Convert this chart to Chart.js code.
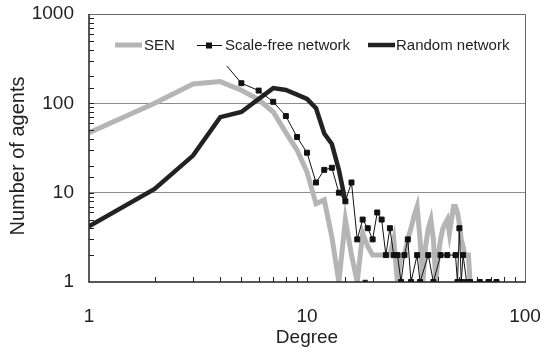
<!DOCTYPE html>
<html>
<head>
<meta charset="utf-8">
<script src="https://cdn.jsdelivr.net/npm/chart.js@4.4.0/dist/chart.umd.min.js"></script>
<style>
  html, body { margin: 0; padding: 0; background: #fff; }
  #box { width: 541px; height: 347px; }
</style>
</head>
<body>
<div id="box"><canvas id="degreeChart"></canvas></div>
<script>
// degree distribution
const senDeg = [1,2,3,4,5,6,7,8,9,10,11,12,13,14,15,16,17,18,19,20,21,22,23,24,25,26,27,28,
  29,30,31,32,33,34,35,36,37,38,39,40,41,42,43,44,45,46,47,48,49,50,51,52,53,54,55,56];
const senCount = [47,100,165,175,140,110,80,47,30,17,7.5,8.3,3.2,1,5,2,1,3.5,2.5,2,2,2,2,2,3,1,2,2,
  3,4,5.5,7,3,1,2.5,4,5,3,1,2,3,4,4.5,5,3.5,5,7,7,6,4.5,3,2.5,2,2,2,1];

const sfDeg = [4,5,6,7,8,9,10,11,12,13,14,15,16,17,18,19,20,21,22,23,24,25,26,27,28,29,30,
  32,33,36,38,41,44,48,49,50,51,52,54,56,62,68,74];
const sfCount = [320,168,139,104,72,42,28,13,18,19,10,8,13,3,5,4,3,6,5,2,4,2,2,1,2,3,1,
  2,1,2,1,2,2,2,1,4,1,2,1,1,1,1,1];

const rndDeg = [1,2,3,4,5,6,7,8,9,10,11,12,13,14,15,16,17,18,19];
const rndCount = [4.2,11,26,70,80,112,148,141,125,112,88,46,35,18,8,null,null,1,1];

const xLabels = [1, 10, 100];
const yLabels = [1, 10, 100, 1000];
const legendNames = ['SEN', 'Scale-free network', 'Random network'];
const yTitle = 'Number of agents';

const FONT = "'Liberation Sans', Arial, sans-serif";
const toXY = (xs, ys) => xs.map((d, i) => ({x: d, y: ys[i]}));

// no extra room for overhanging labels, the plot box is fixed by layout padding
const noPad = s => { s.paddingLeft = 0; s.paddingRight = 0; s.paddingTop = 0; s.paddingBottom = 0; };

// ticks inside the frame, border, y title and the legend box (drawn over the data like excel does)
const decorations = {
  id: 'decorations',
  afterDatasetsDraw(chart) {
    const {ctx, chartArea: a, scales: {x, y}} = chart;
    ctx.save();
    ctx.strokeStyle = '#222';
    ctx.lineWidth = 1;
    ctx.beginPath();
    x.ticks.forEach(t => {
      const px = Math.round(x.getPixelForValue(t.value)) + 0.5;
      if (px > a.left + 2 && px < a.right - 2) { ctx.moveTo(px, a.bottom); ctx.lineTo(px, a.bottom - 5); }
    });
    y.ticks.forEach(t => {
      const py = Math.round(y.getPixelForValue(t.value)) + 0.5;
      if (py > a.top + 2 && py < a.bottom - 2) { ctx.moveTo(a.left, py); ctx.lineTo(a.left + 5, py); }
    });
    ctx.stroke();

    // frame
    ctx.strokeStyle = '#666';
    ctx.beginPath();
    ctx.moveTo(a.left, a.top + 0.5); ctx.lineTo(a.right + 0.5, a.top + 0.5); ctx.lineTo(a.right + 0.5, a.bottom);
    ctx.stroke();
    ctx.strokeStyle = '#222';
    ctx.lineWidth = 1.5;
    ctx.beginPath();
    ctx.moveTo(a.left, a.top); ctx.lineTo(a.left, a.bottom); ctx.lineTo(a.right + 1, a.bottom);
    ctx.stroke();

    // y title, sits a bit lower than the middle in the original
    ctx.save();
    ctx.translate(18, 156);
    ctx.rotate(-Math.PI / 2);
    ctx.fillStyle = '#222';
    ctx.font = '20px ' + FONT;
    ctx.textAlign = 'center';
    ctx.textBaseline = 'middle';
    ctx.fillText(yTitle, 0, 0);
    ctx.restore();

    // legend
    ctx.fillStyle = '#fff';
    ctx.fillRect(105, 27, 415, 39);
    const ly = 45;
    ctx.lineCap = 'butt';
    ctx.strokeStyle = '#b5b5b5'; ctx.lineWidth = 5;
    ctx.beginPath(); ctx.moveTo(115, ly); ctx.lineTo(142, ly); ctx.stroke();
    ctx.strokeStyle = '#111'; ctx.lineWidth = 1;
    ctx.beginPath(); ctx.moveTo(197, ly + 0.5); ctx.lineTo(222, ly + 0.5); ctx.stroke();
    ctx.fillStyle = '#111'; ctx.fillRect(206, ly - 2.5, 6, 6);
    ctx.strokeStyle = '#222'; ctx.lineWidth = 4.5;
    ctx.beginPath(); ctx.moveTo(368, ly); ctx.lineTo(395, ly); ctx.stroke();

    ctx.fillStyle = '#222';
    ctx.font = '15px ' + FONT;
    ctx.textBaseline = 'middle';
    ctx.fillText(legendNames[0], 144, ly + 1);
    ctx.fillText(legendNames[1], 225, ly + 1);
    ctx.fillText(legendNames[2], 396, ly + 1);
    ctx.restore();
  }
};

new Chart(document.getElementById('degreeChart'), {
  type: 'line',
  data: {
    datasets: [{
      label: legendNames[1],
      data: toXY(sfDeg, sfCount),
      borderColor: '#111',
      borderWidth: 1,
      pointStyle: 'rect',
      pointRadius: 3.5,
      pointBorderWidth: 1,
      pointBackgroundColor: '#111',
      pointBorderColor: '#111',
      order: 1
    }, {
      label: legendNames[2],
      data: toXY(rndDeg, rndCount),
      borderColor: '#222',
      borderWidth: 4.5,
      pointRadius: 0,
      spanGaps: false,
      order: 2
    }, {
      label: legendNames[0],
      data: toXY(senDeg, senCount),
      borderColor: '#b5b5b5',
      borderWidth: 5,
      pointRadius: 0,
      order: 3
    }]
  },
  options: {
    responsive: true,
    maintainAspectRatio: false,
    animation: false,
    layout: { padding: { top: 14, right: 16, left: 0, bottom: 0 } },
    plugins: {
      legend: { display: false },
      tooltip: { enabled: false }
    },
    scales: {
      x: {
        type: 'logarithmic',
        min: 1,
        max: 100,
        grid: { display: false },
        border: { display: false },
        ticks: {
          autoSkip: false,
          maxRotation: 0,
          padding: 15,
          color: '#222',
          font: { family: FONT, size: 19 },
          callback: v => xLabels.includes(v) ? String(v) : ''
        },
        title: {
          display: true,
          text: 'Degree',
          color: '#222',
          font: { family: FONT, size: 19, lineHeight: 1 },
          padding: 0
        },
        afterFit: s => { s.height = 65; noPad(s); }
      },
      y: {
        type: 'logarithmic',
        min: 1,
        max: 1000,
        grid: {
          drawTicks: false,
          color: c => (c.tick && (c.tick.value === 10 || c.tick.value === 100)) ? '#8c8c8c' : 'rgba(0,0,0,0)'
        },
        border: { display: false },
        ticks: {
          autoSkip: false,
          padding: 15,
          color: '#222',
          font: { family: FONT, size: 19 },
          callback: v => yLabels.includes(v) ? String(v) : ''
        },
        title: { display: false },
        afterFit: s => { s.width = 89; noPad(s); }
      }
    }
  },
  plugins: [decorations]
});
</script>
</body>
</html>
